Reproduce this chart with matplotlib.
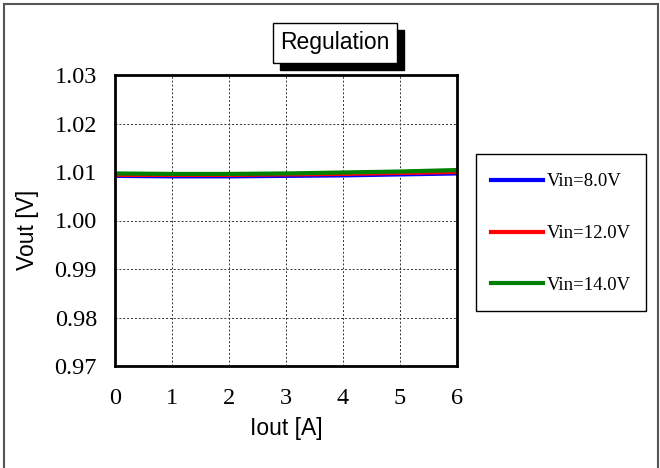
import matplotlib.pyplot as plt
from matplotlib.patches import Rectangle

iout = [0, 1, 2, 3, 4, 5, 6]
vout_8v = [1.0092, 1.0091, 1.0091, 1.0092, 1.0093, 1.0095, 1.0097]
vout_12v = [1.0094, 1.0094, 1.0094, 1.0095, 1.0096, 1.0098, 1.0100]
vout_14v = [1.0097, 1.0096, 1.0096, 1.0097, 1.0099, 1.0101, 1.0104]
series = [('Vin=8.0V', vout_8v, '#0000ff'),
          ('Vin=12.0V', vout_12v, '#ff0000'),
          ('Vin=14.0V', vout_14v, '#008000')]
yticks = [0.97, 0.98, 0.99, 1.00, 1.01, 1.02, 1.03]

W, H = 660, 468
fig = plt.figure(figsize=(W / 100, H / 100), dpi=100)

# cadre exterieur
fig.patches.append(Rectangle((4 / W, -0.01), 654 / W, 1 - 4 / H + 0.01, transform=fig.transFigure,
                             fill=False, edgecolor='#555555', linewidth=1.5))

ax = fig.add_axes([115 / W, 1 - 366 / H, 342 / W, 291 / H])
for nome, v, cor in series:
    ax.plot(iout, v, color=cor, linewidth=3, label=nome)

ax.set_xlim(0, 6)
ax.set_ylim(0.97, 1.03)
ax.set_xticks(iout)
ax.set_yticks(yticks)
ax.set_yticklabels([f'{y:.2f}' for y in yticks])
ax.tick_params(axis='x', length=0, pad=16, labelsize=17.5)
ax.tick_params(axis='y', length=0, pad=13, labelsize=17.5)
for lab in ax.get_xticklabels() + ax.get_yticklabels():
    lab.set_family('Liberation Serif')
ax.grid(True, color='#333333', linestyle=(0, (2, 2)), linewidth=0.7)
for s in ax.spines.values():
    s.set_linewidth(2)

ax.set_xlabel('Iout [A]', fontsize=16.5, family='Liberation Sans')
ax.set_ylabel('Vout [V]', fontsize=16.5, family='Liberation Sans')
ax.xaxis.set_label_coords(0.5, -0.175)
ax.yaxis.set_label_coords(-0.222, 0.467)

# titulo com sombra
fig.patches.append(Rectangle((280 / W, 1 - 70 / H), 124 / W, 40 / H,
                             transform=fig.transFigure, facecolor='black', edgecolor='black'))
fig.patches.append(Rectangle((273 / W, 1 - 63 / H), 124 / W, 40 / H,
                             transform=fig.transFigure, facecolor='white', edgecolor='black', linewidth=1))
fig.text(335 / W, 1 - 43 / H, 'Regulation', ha='center', va='center', fontsize=16.5, family='Liberation Sans')

# legenda: caixa desenhada a parte
fig.patches.append(Rectangle((476 / W, 1 - 311 / H), 170 / W, 157 / H,
                             transform=fig.transFigure, fill=False, edgecolor='black', linewidth=1))
leg = fig.legend(loc='center', bbox_to_anchor=(561 / W, 1 - 233.5 / H),
                 prop={'family': 'Liberation Serif', 'size': 13.5}, frameon=False,
                 handlelength=2.8, handletextpad=0.2, labelspacing=1.85,
                 borderpad=0, borderaxespad=0)

fig.savefig('out.png', dpi=100)
